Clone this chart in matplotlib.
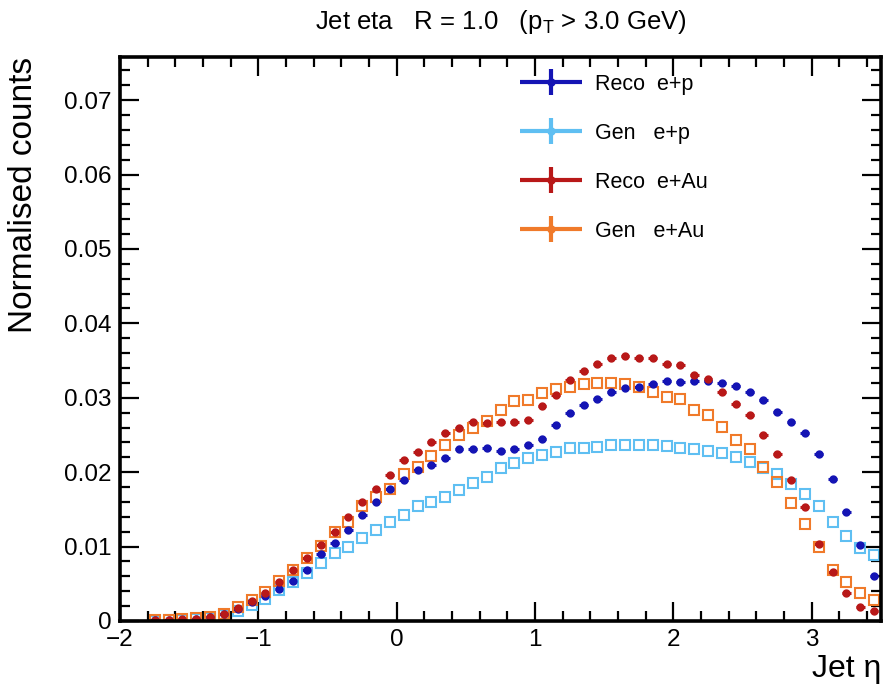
import matplotlib
matplotlib.use("Agg")
import matplotlib.pyplot as plt
import numpy as np
from matplotlib.ticker import MultipleLocator, FuncFormatter
from matplotlib.legend_handler import HandlerErrorbar

plt.rcParams['font.family'] = ['Liberation Sans', 'DejaVu Sans']
plt.rcParams['mathtext.fontset'] = 'custom'
plt.rcParams['mathtext.rm'] = 'Liberation Sans'
plt.rcParams['mathtext.it'] = 'Liberation Sans'

# bin centres of the jet eta histogram (width 0.1)
eta = np.round(np.arange(-1.75, 3.46, 0.1), 2)

reco_ep = [0.0001, 0.0001, 0.0001, 0.0003, 0.0005, 0.0009, 0.0016, 0.0025, 0.0034, 0.0043,
           0.0054, 0.0069, 0.0090, 0.0105, 0.0122, 0.0142, 0.0160, 0.0178, 0.0189, 0.0203,
           0.0210, 0.0219, 0.0231, 0.0231, 0.0232, 0.0228, 0.0231, 0.0236, 0.0245, 0.0263,
           0.0279, 0.0290, 0.0299, 0.0308, 0.0313, 0.0315, 0.0319, 0.0322, 0.0321, 0.0322,
           0.0322, 0.0320, 0.0316, 0.0308, 0.0297, 0.0281, 0.0268, 0.0253, 0.0224, 0.0191,
           0.0146, 0.0102, 0.0060]
gen_ep = [0.0000, 0.0001, 0.0001, 0.0002, 0.0004, 0.0008, 0.0014, 0.0021, 0.0030, 0.0041,
          0.0052, 0.0064, 0.0078, 0.0091, 0.0100, 0.0111, 0.0122, 0.0133, 0.0142, 0.0154,
          0.0160, 0.0167, 0.0176, 0.0185, 0.0194, 0.0205, 0.0212, 0.0219, 0.0223, 0.0227,
          0.0232, 0.0233, 0.0234, 0.0236, 0.0236, 0.0236, 0.0236, 0.0235, 0.0232, 0.0231,
          0.0229, 0.0226, 0.0220, 0.0213, 0.0206, 0.0197, 0.0184, 0.0170, 0.0154, 0.0133,
          0.0114, 0.0098, 0.0089]
reco_eau = [0.0001, 0.0001, 0.0002, 0.0003, 0.0006, 0.0010, 0.0018, 0.0027, 0.0038, 0.0053,
            0.0068, 0.0084, 0.0102, 0.0120, 0.0140, 0.0160, 0.0178, 0.0196, 0.0216, 0.0227,
            0.0241, 0.0252, 0.0259, 0.0268, 0.0266, 0.0267, 0.0268, 0.0270, 0.0289, 0.0304,
            0.0324, 0.0336, 0.0346, 0.0353, 0.0356, 0.0353, 0.0353, 0.0346, 0.0344, 0.0330,
            0.0325, 0.0308, 0.0292, 0.0277, 0.0250, 0.0224, 0.0189, 0.0153, 0.0104, 0.0066,
            0.0037, 0.0019, 0.0013]
gen_eau = [0.0001, 0.0001, 0.0002, 0.0004, 0.0006, 0.0010, 0.0019, 0.0028, 0.0039, 0.0054,
           0.0069, 0.0084, 0.0101, 0.0119, 0.0133, 0.0155, 0.0166, 0.0178, 0.0198, 0.0207,
           0.0222, 0.0237, 0.0250, 0.0259, 0.0269, 0.0283, 0.0295, 0.0297, 0.0306, 0.0312,
           0.0315, 0.0319, 0.0320, 0.0320, 0.0319, 0.0314, 0.0308, 0.0301, 0.0298, 0.0283,
           0.0277, 0.0261, 0.0243, 0.0231, 0.0207, 0.0187, 0.0158, 0.0131, 0.0100, 0.0069,
           0.0053, 0.0037, 0.0028]

labels = ['Reco  e+p', 'Gen   e+p', 'Reco  e+Au', 'Gen   e+Au']
colors = ['#1414b4', '#5fbff2', '#b81818', '#f07a2a']

fig = plt.figure(figsize=(8.83, 6.95), dpi=100)
ax = fig.add_axes([0.136, 0.1065, 0.8617, 0.8115])

handles = []
for y, lab, col in zip([reco_ep, gen_ep, reco_eau, gen_eau], labels, colors):
    if lab.startswith('Reco'):
        ax.errorbar(eta, y, xerr=0.032, yerr=0.0004, fmt='o', ms=5, color=col,
                    mec=col, mfc=col, elinewidth=2.2, capsize=0)
    else:
        ax.plot(eta, y, 's', ms=7, mec=col, mfc='none', mew=1.5)
    # legend proxy (ROOT "lep" style: line + error bar + marker)
    h = ax.errorbar([np.nan], [np.nan], xerr=[1], yerr=[1], fmt='o', ms=5, color=col,
                    mec=col, mfc=col, elinewidth=3, capsize=0, label=lab)
    handles.append(h)

ax.set_xlim(-2, 3.5)
ax.set_ylim(0, 0.0758)

ax.xaxis.set_major_locator(MultipleLocator(1))
ax.xaxis.set_minor_locator(MultipleLocator(0.2))
ax.yaxis.set_major_locator(MultipleLocator(0.01))
ax.yaxis.set_minor_locator(MultipleLocator(0.002))
ax.yaxis.set_major_formatter(FuncFormatter(lambda v, p: '0' if abs(v) < 1e-9 else f'{v:.2f}'))

ax.tick_params(which='both', direction='in', top=True, right=True, width=1.6,
               labelsize=17.5, pad=6)
ax.tick_params(which='major', length=14)
ax.tick_params(which='minor', length=7)
for s in ax.spines.values():
    s.set_linewidth(2.6)

ax.set_xlabel('Jet η', loc='right', fontsize=23, labelpad=2)
ax.set_ylabel('Normalised counts', loc='top', fontsize=24, labelpad=18)
ax.set_title(r'Jet eta   R = 1.0   (p$_\mathregular{T}$ > 3.0 GeV)', fontsize=18.5, pad=20)

leg = ax.legend(handles=handles, loc='upper left', bbox_to_anchor=(0.5, 1.005),
                frameon=False, fontsize=15.5, handlelength=2.9, labelspacing=1.3,
                handletextpad=0.6,
                handler_map={type(handles[0]): HandlerErrorbar(xerr_size=1.45, yerr_size=0.6)})

fig.savefig('out.png', dpi=100)
